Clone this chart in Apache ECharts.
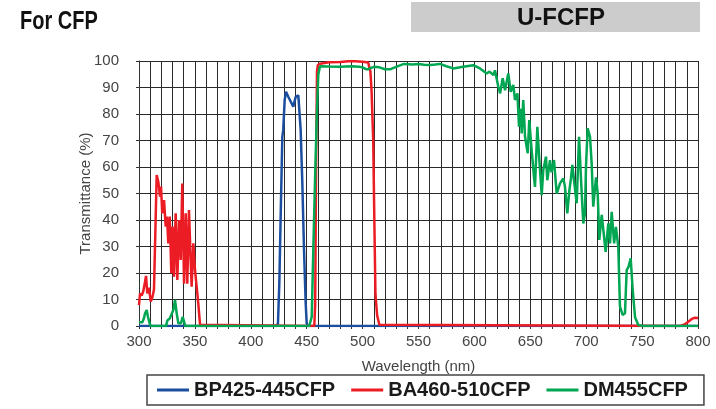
<!DOCTYPE html>
<html>
<head>
<meta charset="utf-8">
<script src="https://cdn.jsdelivr.net/npm/echarts@6/dist/echarts.min.js"></script>
<style>html,body{margin:0;padding:0;background:#fff}#c{width:716px;height:409px}</style>
</head>
<body>
<div id="c"></div>
<script>
// ---- data (wavelength nm, transmittance %) ----
var seriesNames = ['BP425-445CFP', 'BA460-510CFP', 'DM455CFP'];
var xTicks = [300, 350, 400, 450, 500, 550, 600, 650, 700, 750, 800];
var yTicks = [0, 10, 20, 30, 40, 50, 60, 70, 80, 90, 100];

var bpX = [300, 423, 424.3, 425.5, 426.7, 428.2, 429, 430.3, 431.5, 433.5, 435, 438, 440.2, 442.5, 444.6, 446.1, 447.6, 449.1, 450, 451, 800];
var bpY = [0, 0, 1, 16, 41, 71.4, 74, 85.3, 88.4, 86.5, 87, 82.8, 86.5, 87, 74, 53.8, 28.7, 8.5, 1, 0, 0];

var baX = [300, 300.9, 302.4, 303.8, 305.4, 306.3, 307.4, 308.9, 310.5, 311.9, 313.4, 314.6, 315.8, 317.3, 318.8, 319.7, 320.8, 322.4, 323.9, 325, 326.2, 327.5, 328.9, 330.1, 331.3, 332.8, 334.3, 335.8, 337.3, 338.7, 340.3, 341.8, 343.2, 344.7, 346.2, 347.1, 348.6, 350.1, 351.6, 353, 354.6, 355.5,
  456.8, 457.6, 458.4, 459.2, 460, 462, 470, 480, 490, 500, 505, 506, 507, 508, 509.5, 510.5, 511.5, 513, 515, 516,
  784, 788, 791.3, 795, 797.3, 800];
var baY = [7.9, 12.3, 11.5, 13, 16.7, 18.9, 12.3, 14.5, 9.2, 10.7, 13.8, 35, 57, 54.4, 48.8, 52.6, 42.5, 47.5, 37.5, 41.3, 31.2, 41.3, 19.9, 37.5, 18.6, 42.5, 17.4, 40, 24.9, 53.8, 16, 42.5, 16, 43.8, 24.9, 14.8, 31.2, 21.1, 14.8, 8.6, 0.5, 0,
  0, 8, 60, 96, 98.5, 99, 99.5, 99.6, 100, 99.7, 99.4, 99, 96, 89, 70, 40, 12, 4, 0.5, 0,
  0, 0.6, 1.6, 2.8, 3.1, 3];

var dmX = [300, 303, 304.5, 305.4, 306.9, 308, 309.5, 310.5, 324.2, 325.3, 327.7, 329.2, 330.7, 332.2, 333.7, 335.2, 337.5, 339.1, 340.2, 341.4,
  452.3, 454.5, 455.9, 457.4, 459, 460.4, 461.9, 470, 480, 490, 497, 500, 503, 505, 510, 515, 520, 525, 530, 537, 545, 550, 555, 560, 565, 569, 575, 581, 590, 599, 605,
  611, 613.5, 617, 618.4, 621.4, 623, 625.3, 627.4, 630.3, 632.5, 634.8, 636.3, 638.5, 639.9, 641.4, 642.3, 643.7, 645.3, 647.7, 649.1, 651.2, 653.3, 654.2, 656.3, 658.1,
  660.2, 661.6, 664, 665.2, 667.6, 669, 671.2, 673.6, 676.6, 679.5, 681, 683.1, 684.9, 686.4, 687.6, 689.4, 691.5, 693.6, 695.3, 697.4, 698.9, 699.8, 701.3, 703.4, 704.9,
  706.3, 708.8, 710.3, 711.7, 713.9, 715.4, 717.4, 719.8, 721.3, 722.8, 725, 726.6, 728.7, 730.2, 732.6, 734.7, 736.2, 737.9, 739.8, 741.6, 743.7, 746.6, 751, 800];
var dmY = [1.4, 1.4, 3, 4.8, 6, 3.5, 1, 0, 0, 2, 3, 3.5, 6, 9.8, 4.8, 1, 1, 3.5, 3.8, 0,
  0, 3.5, 28.7, 54, 79, 95, 98, 97.9, 97.8, 98, 97.8, 97.6, 96.9, 96.9, 97.8, 97.6, 96.9, 96.9, 97.8, 98.9, 98.7, 98.9, 98.6, 98.5, 98.7, 98.9, 98, 97.2, 97.8, 98.4, 97.2,
  95.3, 96, 94.7, 96.5, 90.3, 87.8, 93.5, 89, 95.3, 88.4, 91, 85.3, 87.8, 75.2, 82, 72.7, 85.3, 71.4, 65.2, 77.7, 66.4, 56.3, 52.5, 75.2, 62.6,
  49.4, 58.9, 63.9, 55, 62.6, 58, 62.6, 50, 53.8, 55.7, 52.6, 42.5, 51, 55.8, 60.8, 53.8, 46.3, 71.4, 55.8, 38.7, 42.5, 60, 74.6, 71.4, 61.3,
  45, 56.1, 50, 32.5, 41.9, 41.3, 28, 38.7, 31.2, 43.1, 31.2, 37.4, 29.9, 7.3, 4.2, 4.8, 21.1, 22.4, 25.5, 13.6, 3.3, 0.4, 0, 0];

function pairs(xs, ys) { return xs.map(function (x, i) { return [x, ys[i]]; }); }

var colors = ['#1c4e9f', '#ec1c24', '#00a651'];
var chart = echarts.init(document.getElementById('c'), null, { renderer: 'canvas' });
var labelFont = '"Liberation Sans", Arial, sans-serif';

chart.setOption({
  animation: false,
  backgroundColor: '#ffffff',
  color: colors,
  graphic: [
    { type: 'text', x: 20, y: 22, scaleX: 0.8, style: { text: 'For CFP', fontFamily: labelFont, fontWeight: 'bold', fontSize: 25, fill: '#111', align: 'left', verticalAlign: 'middle' }, silent: true },
    { type: 'rect', shape: { x: 411, y: 2, width: 289, height: 30 }, style: { fill: '#cccccc' }, silent: true },
    { type: 'text', x: 561, y: 18, style: { text: 'U-FCFP', fontFamily: labelFont, fontWeight: 'bold', fontSize: 24, fill: '#111', align: 'center', verticalAlign: 'middle' }, silent: true }
  ],
  legend: {
    data: seriesNames,
    left: 147, top: 375,
    icon: 'rect', itemWidth: 32, itemHeight: 3, itemGap: 16,
    padding: [5, 16, 5, 10],
    borderColor: '#444', borderWidth: 1.5,
    textStyle: { fontFamily: labelFont, fontWeight: 'bold', fontSize: 20, color: '#1a1a1a' }
  },
  grid: { left: 139, right: 18, top: 61, bottom: 83, containLabel: false },
  xAxis: {
    type: 'value', min: 300, max: 800, interval: 10,
    name: 'Wavelength (nm)', nameLocation: 'middle', nameGap: 33, nameMoveOverlap: false,
    nameTextStyle: { fontFamily: labelFont, fontSize: 15, color: '#444' },
    axisLine: { show: true, lineStyle: { color: '#333', width: 1 } },
    axisTick: { show: true, length: 3, lineStyle: { color: '#333' } },
    axisLabel: {
      margin: 8, fontFamily: labelFont, fontSize: 15, color: '#444',
      formatter: function (v) { return xTicks.indexOf(v) >= 0 ? String(v) : ''; }
    },
    splitLine: { show: true, lineStyle: { color: '#2a2a2a', width: 1 } }
  },
  yAxis: {
    type: 'value', min: 0, max: 100, interval: 10,
    name: 'Transmittance (%)', nameLocation: 'middle', nameGap: 46, nameRotate: 90, nameMoveOverlap: false,
    nameTextStyle: { fontFamily: labelFont, fontSize: 15, color: '#444' },
    axisLine: { show: true, lineStyle: { color: '#333', width: 1 } },
    axisTick: { show: true, length: 3, lineStyle: { color: '#333' } },
    axisLabel: {
      margin: 20, fontFamily: labelFont, fontSize: 15, color: '#444',
      formatter: function (v) { return yTicks.indexOf(v) >= 0 ? String(v) : ''; }
    },
    splitLine: { show: true, lineStyle: { color: '#2a2a2a', width: 1 } }
  },
  series: [
    { name: seriesNames[0], type: 'line', data: pairs(bpX, bpY), showSymbol: false, symbol: 'none', lineStyle: { width: 2.5, color: colors[0] }, z: 2 },
    { name: seriesNames[1], type: 'line', data: pairs(baX, baY), showSymbol: false, symbol: 'none', lineStyle: { width: 2.5, color: colors[1] }, z: 3 },
    { name: seriesNames[2], type: 'line', data: pairs(dmX, dmY), showSymbol: false, symbol: 'none', lineStyle: { width: 2.5, color: colors[2] }, z: 4 }
  ]
});
</script>
</body>
</html>
